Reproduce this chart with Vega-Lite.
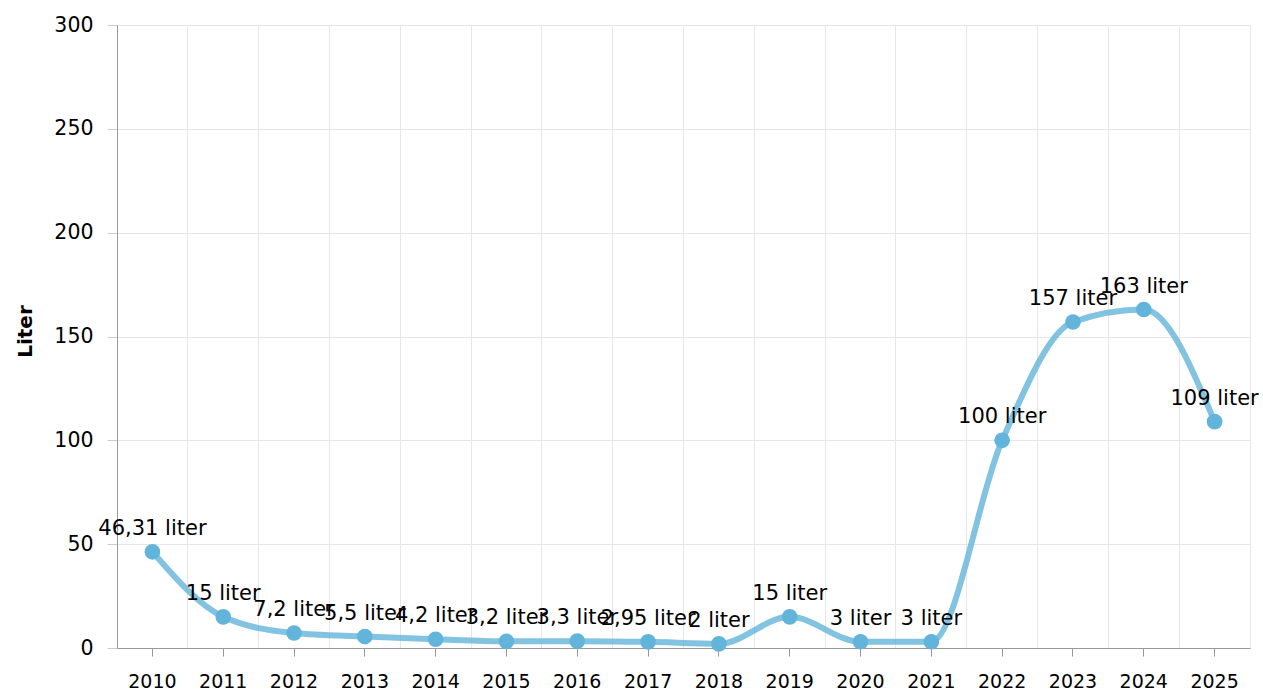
{
  "$schema": "https://vega.github.io/schema/vega-lite/v6.json",
  "width": 1133,
  "height": 623,
  "autosize": {"type": "none"},
  "padding": {"left": 117, "top": 25, "right": 13, "bottom": 46},
  "background": "white",
  "config": {
    "font": "DejaVu Sans",
    "view": {"stroke": "#e6e6e6", "strokeWidth": 1}
  },
  "data": {
    "values": [
      {"year": "2010", "value": 46.31, "label": "46,31 liter"},
      {"year": "2011", "value": 15, "label": "15 liter"},
      {"year": "2012", "value": 7.2, "label": "7,2 liter"},
      {"year": "2013", "value": 5.5, "label": "5,5 liter"},
      {"year": "2014", "value": 4.2, "label": "4,2 liter"},
      {"year": "2015", "value": 3.2, "label": "3,2 liter"},
      {"year": "2016", "value": 3.3, "label": "3,3 liter"},
      {"year": "2017", "value": 2.95, "label": "2,95 liter"},
      {"year": "2018", "value": 2, "label": "2 liter"},
      {"year": "2019", "value": 15, "label": "15 liter"},
      {"year": "2020", "value": 3, "label": "3 liter"},
      {"year": "2021", "value": 3, "label": "3 liter"},
      {"year": "2022", "value": 100, "label": "100 liter"},
      {"year": "2023", "value": 157, "label": "157 liter"},
      {"year": "2024", "value": 163, "label": "163 liter"},
      {"year": "2025", "value": 109, "label": "109 liter"}
    ]
  },
  "encoding": {
    "x": {
      "field": "year",
      "type": "ordinal",
      "bandPosition": 0.5,
      "scale": {"type": "band", "paddingInner": 0, "paddingOuter": 0},
      "axis": null
    },
    "y": {
      "field": "value",
      "type": "quantitative",
      "scale": {"domain": [0, 300], "nice": false},
      "axis": {
        "values": [0, 50, 100, 150, 200, 250, 300],
        "title": "Liter",
        "titleFont": "DejaVu Sans",
        "titleFontSize": 20,
        "titleFontWeight": "bold",
        "titleColor": "black",
        "titleAngle": -90,
        "titleX": -92,
        "titleY": 306,
        "titleAlign": "center",
        "titleBaseline": "middle",
        "labelFontSize": 20.5,
        "labelColor": "black",
        "labelPadding": 14,
        "tickSize": 10,
        "tickColor": "#cccccc",
        "domainColor": "#999999",
        "gridColor": "#e6e6e6",
        "grid": true
      }
    }
  },
  "layer": [
    {
      "mark": {"type": "rule", "opacity": 0},
      "encoding": {
        "x": {
          "field": "year",
          "type": "ordinal",
          "bandPosition": 0.5,
          "axis": {
            "orient": "bottom",
            "grid": false,
            "title": null,
            "labelAngle": 0,
            "labelFontSize": 19,
            "labelColor": "black",
            "labelPadding": 16,
            "tickSize": 8,
            "tickColor": "#999999",
            "domainColor": "#999999"
          }
        }
      }
    },
    {
      "mark": {"type": "rule", "opacity": 0},
      "encoding": {
        "x": {
          "field": "year",
          "type": "ordinal",
          "axis": {
            "orient": "bottom",
            "grid": true,
            "gridColor": "#e6e6e6",
            "bandPosition": 0,
            "ticks": false,
            "labels": false,
            "domain": false,
            "title": null
          }
        }
      }
    },
    {
      "mark": {"type": "line", "interpolate": "monotone", "color": "#63b4db", "opacity": 0.8, "strokeWidth": 6}
    },
    {
      "mark": {"type": "point", "filled": true, "size": 245, "color": "#63b4db", "opacity": 1}
    },
    {
      "mark": {"type": "text", "fontSize": 21, "color": "black", "baseline": "alphabetic", "dy": -17},
      "encoding": {"text": {"field": "label"}}
    }
  ],
  "resolve": {"axis": {"x": "independent"}}
}
